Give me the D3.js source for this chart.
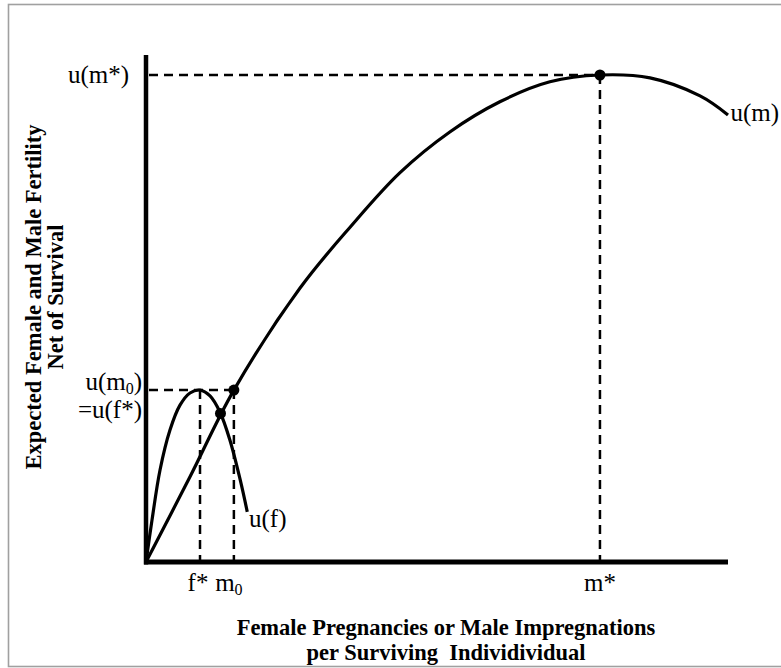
<!DOCTYPE html>
<html><head><meta charset="utf-8">
<script src="https://cdn.jsdelivr.net/npm/d3@7"></script>
<style>body{margin:0;background:#fff}svg{display:block}</style>
</head><body>
<svg id="c" width="781" height="668"></svg>
<script>
// Data (arbitrary units: x 0..100 along the horizontal axis, y 0..100 up to u(m*))
const uF_x = [0, 1.03, 2.41, 4.12, 5.84, 7.56, 9.28, 11.0, 12.7, 14.4, 16.2, 17.4];
const uF_y = [0, 8.6, 18.9, 27.1, 32.2, 34.7, 35.3, 34.1, 30.8, 25.1, 16.8, 10.3];
const uM_x = [0, 7.56, 15.1, 26.5, 35.1, 43.6, 52.2, 60.8, 69.4, 78.0, 86.6, 95.2, 100];
const uM_y = [0, 17.5, 35.3, 56.3, 68.8, 79.9, 88.3, 94.5, 98.6, 100, 99.4, 95.7, 91.8];
const fStar = 9.28, m0 = 15.1, mStar = 78.0;
const uM0 = 35.3, uMStar = 100;
const cross = [12.8, 30.5];

const svg = d3.select("#c");
const x = d3.scaleLinear().domain([0, 100]).range([146, 728]);
const y = d3.scaleLinear().domain([0, 100]).range([562, 75]);

// frame
svg.append("rect").attr("x", 8.5).attr("y", 4.5).attr("width", 820).attr("height", 662)
  .attr("fill", "none").attr("stroke", "#a0a0a0").attr("stroke-width", 1.6);

const dash = "9,6";
function dline(x1, y1, x2, y2) {
  svg.append("line").attr("x1", x1).attr("y1", y1).attr("x2", x2).attr("y2", y2)
    .attr("stroke", "#000").attr("stroke-width", 2.5).attr("stroke-dasharray", dash);
}
dline(x(0) + 3, y(uMStar), x(mStar), y(uMStar));
dline(x(0) + 3, y(uM0), x(m0), y(uM0));
dline(x(fStar), y(uM0), x(fStar), y(0) - 2);
dline(x(m0), y(uM0), x(m0), y(0) - 2);
dline(x(mStar), y(uMStar), x(mStar), y(0) - 2);

// axes
svg.append("line").attr("x1", x(0)).attr("y1", 55).attr("x2", x(0)).attr("y2", y(0) + 2.5)
  .attr("stroke", "#000").attr("stroke-width", 4.5);
svg.append("line").attr("x1", x(0) - 2).attr("y1", y(0)).attr("x2", x(100)).attr("y2", y(0))
  .attr("stroke", "#000").attr("stroke-width", 5);

const line = d3.line().x(d => x(d[0])).y(d => y(d[1])).curve(d3.curveCatmullRom.alpha(0.5));
svg.append("path").datum(uM_x.map((v, i) => [v, uM_y[i]])).attr("d", line)
  .attr("fill", "none").attr("stroke", "#000").attr("stroke-width", 3.2);
svg.append("path").datum(uF_x.map((v, i) => [v, uF_y[i]])).attr("d", line)
  .attr("fill", "none").attr("stroke", "#000").attr("stroke-width", 3.2);

// dots
[[m0, uM0], cross, [mStar, uMStar]].forEach(p => {
  svg.append("circle").attr("cx", x(p[0])).attr("cy", y(p[1])).attr("r", 5.5).attr("fill", "#000");
});

// labels
const font = "'Liberation Serif','Times New Roman',serif";
const fs = 25, sub = 16;
function txt(t, px, py, anchor) {
  return svg.append("text").attr("x", px).attr("y", py).attr("text-anchor", anchor || "start")
    .attr("font-family", font).attr("font-size", fs).attr("fill", "#000").text(t);
}
txt("u(m*)", 129, y(uMStar) + 8, "end");
const l1 = txt("u(m", 142, y(uM0) + 0, "end");
l1.append("tspan").attr("font-size", sub).attr("dy", 4).text("0");
l1.append("tspan").attr("dy", -4).text(")");
txt("=u(f*)", 142, y(uM0) + 28, "end");
txt("u(f)", 249, 527);
txt("u(m)", 779, 121, "end");
txt("f*", x(fStar) - 2, 591, "middle");
const l2 = txt("m", x(m0) - 5, 591, "middle");
l2.append("tspan").attr("font-size", sub).attr("dy", 4).text("0");
txt("m*", x(mStar), 591, "middle");

// axis titles
const tfs = 22.5;
const tb = (t, px, py) => svg.append("text").attr("x", px).attr("y", py).attr("text-anchor", "middle")
  .attr("font-family", font).attr("font-size", tfs).attr("font-weight", "bold").attr("fill", "#000").text(t);
tb("Female Pregnancies or Male Impregnations", 446, 635);
tb("per Surviving  Individividual", 446, 660).attr("xml:space", "preserve");
const g = svg.append("g").attr("transform", "translate(0,297) rotate(-90)");
g.append("text").attr("x", 0).attr("y", 41).attr("text-anchor", "middle")
  .attr("font-family", font).attr("font-size", tfs).attr("font-weight", "bold").text("Expected Female and Male Fertility");
g.append("text").attr("x", 0).attr("y", 63).attr("text-anchor", "middle")
  .attr("font-family", font).attr("font-size", tfs).attr("font-weight", "bold").text("Net of Survival");
</script>
</body></html>
